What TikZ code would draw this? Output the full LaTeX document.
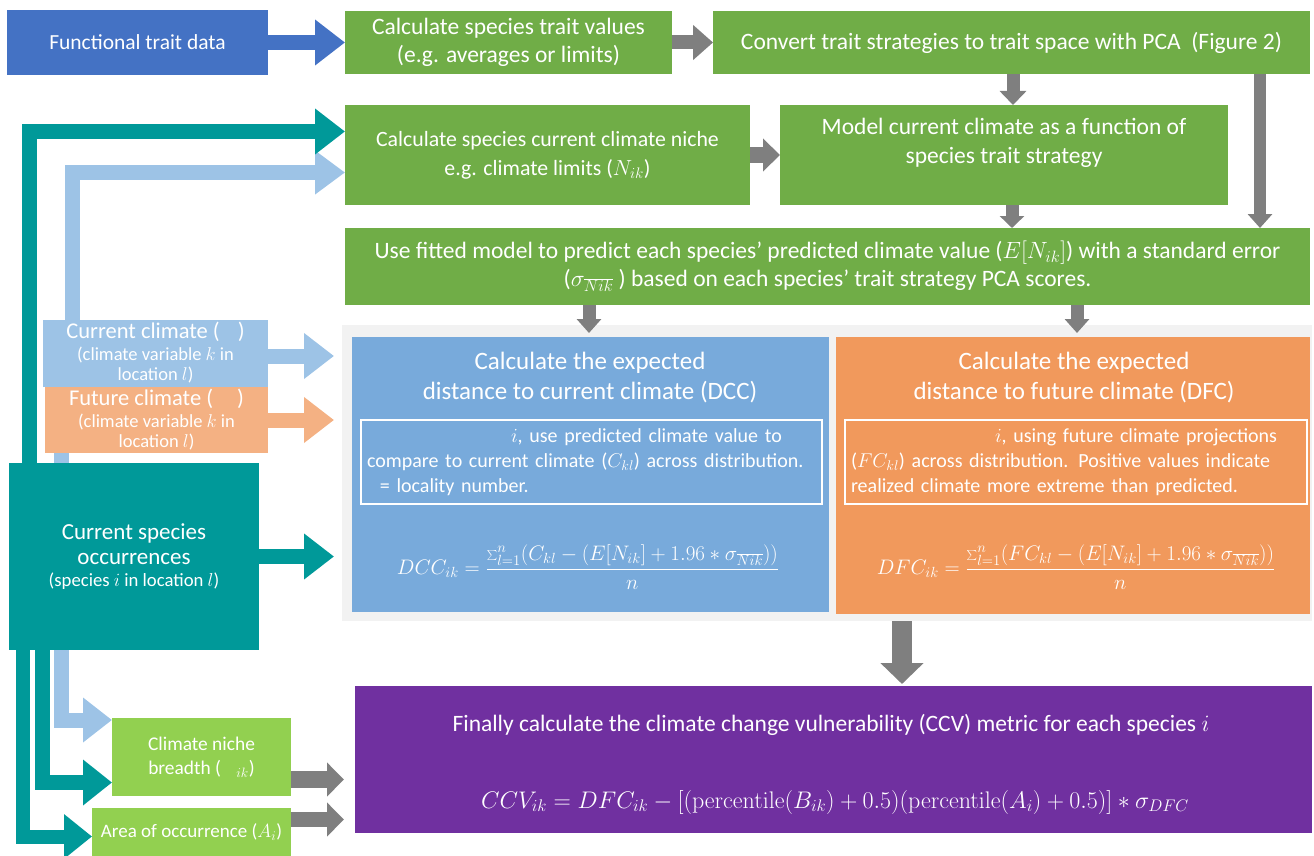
\RequirePackage{fix-cm}
\documentclass[tikz,border=0pt]{standalone}
\usepackage[no-math]{fontspec}
\setmainfont{Carlito}
\usetikzlibrary{arrows.meta}
\definecolor{traitblue}{HTML}{4472C4}
\definecolor{stepgreen}{HTML}{70AD47}
\definecolor{limegreen}{HTML}{92D050}
\definecolor{flowgrey}{HTML}{7F7F7F}
\definecolor{panelgrey}{HTML}{F2F2F2}
\definecolor{dccblue}{HTML}{78AADB}
\definecolor{dfcorange}{HTML}{F1995C}
\definecolor{curblue}{HTML}{9DC3E6}
\definecolor{futsalmon}{HTML}{F4B183}
\definecolor{occteal}{HTML}{009999}
\definecolor{ccvpurple}{HTML}{7030A0}
\pgfdeclarelayer{panel}
\pgfdeclarelayer{links}
\pgfsetlayers{panel,links,main}
\newcommand{\fsz}[2]{\fontsize{#1pt}{#2pt}\selectfont}
\tikzset{
  box/.style={draw=none,text=white,align=center,inner sep=0pt,outer sep=0pt},
  fat/.style n args={3}{line width=#1pt,-{Triangle[length=#2pt,width=#3pt]}},
}
\begin{document}
\begin{tikzpicture}[x=1pt,y=-1pt,line join=miter]
\useasboundingbox (0,0) rectangle (1314,856);
%% top rows
  \node (traitdata) at (137.5,42.5) [box,fill=traitblue,minimum width=261,minimum height=65,font=\fsz{21.5}{25}] {Functional trait data};
  \node (traitvals) at (508.5,42.5) [box,fill=stepgreen,minimum width=327,minimum height=63,font=\fsz{23.5}{28}] {Calculate species trait values\\(e.g. averages or limits)};
  \node (traitpca) at (1011.5,42.5) [box,fill=stepgreen,minimum width=597,minimum height=63,font=\fsz{23.5}{28}] {Convert trait strategies to trait space with PCA\ \ (Figure 2)};
  \node (nicheval) at (547.5,155) [box,fill=stepgreen,minimum width=405,minimum height=100,font=\fsz{21.8}{29}] {Calculate species current climate niche\\e.g. climate limits ($N_{ik}$)};
  \node (nichemodel) at (1004,155) [box,fill=stepgreen,minimum width=448,minimum height=100,font=\fsz{23.5}{29}] {Model current climate as a function of\\species trait strategy\\\mbox{}};
  \node (fitmodel) at (827.5,266.5) [box,fill=stepgreen,minimum width=965,minimum height=77,font=\fsz{23.5}{28}] {Use fitted model to predict each species’ predicted climate value ($E[N_{ik}]$) with a standard error\\($\sigma_{\overline{Nik}}$ ) based on each species’ trait strategy PCA scores.};
%% distance panels
  \begin{pgfonlayer}{panel}
  \node (calcbg) at (827,473) [box,fill=panelgrey,minimum width=970,minimum height=296] {};
  \end{pgfonlayer}
  \node (dccpanel) at (590.5,474.5) [box,fill=dccblue,minimum width=477,minimum height=275] {};
  \node (dfcpanel) at (1073,475.5) [box,fill=dfcorange,minimum width=474,minimum height=277] {};
  \node (dcctitle) at (590,377.5) [box,font=\fsz{25}{30}] {Calculate the expected\\distance to current climate (DCC)};
  \node (dfctitle) at (1074,377.5) [box,font=\fsz{25}{30}] {Calculate the expected\\distance to future climate (DFC)};
  \node (dccnote) at (591.5,462) [box,draw=white,line width=1.5pt,text width=449,inner sep=6pt,minimum height=84,align=left,font=\fsz{20}{25}] {\phantom{For each species} $i$, use predicted climate value to\\compare to current climate ($C_{kl}$) across distribution.\\\phantom{$l$} = locality number.};
  \node (dfcnote) at (1076,462) [box,draw=white,line width=1.5pt,text width=450,inner sep=6pt,minimum height=84,align=left,font=\fsz{20}{25}] {\phantom{For each species} $i$, using future climate projections\\($FC_{kl}$) across distribution. Positive values indicate\\realized climate more extreme than predicted.};
  \node (dcceq) at (588,567) [box,font=\fsz{21}{25}] {$\displaystyle DCC_{ik}=\frac{\sum\nolimits_{l=1}^{n}(C_{kl}-(E[N_{ik}]+1.96*\sigma_{\overline{Nik}}))}{n}$};
  \node (dfceq) at (1076,567) [box,font=\fsz{21}{25}] {$\displaystyle DFC_{ik}=\frac{\sum\nolimits_{l=1}^{n}(FC_{kl}-(E[N_{ik}]+1.96*\sigma_{\overline{Nik}}))}{n}$};
%% vulnerability
  \node (ccvpanel) at (833.5,759.5) [box,fill=ccvpurple,minimum width=957,minimum height=147] {};
  \node (ccvtext) at (831,725) [box,font=\fsz{23.5}{28}] {Finally calculate the climate change vulnerability (CCV) metric for each species $i$};
  \node (ccveq) at (835,802) [box,font=\fsz{24}{28}] {$CCV_{ik}=DFC_{ik}-[(\mathrm{percentile}(B_{ik})+0.5)(\mathrm{percentile}(A_i)+0.5)]*\sigma_{DFC}$};
%% inputs on the left
  \node (curclim) at (155.5,353) [box,fill=curblue,minimum width=225,minimum height=67,font=\fsz{22.5}{21}] {Current climate (\hspace{18pt})\\[1pt]\fsz{18.5}{21}(climate variable $k$ in\\[-1pt]\fsz{18.5}{21}location $l$)};
  \node (futclim) at (156.5,420) [box,fill=futsalmon,minimum width=223,minimum height=66,font=\fsz{22.5}{21}] {Future climate (\hspace{24pt})\\[1pt]\fsz{18.5}{21}(climate variable $k$ in\\[-1pt]\fsz{18.5}{21}location $l$)};
  \node (occ) at (134,556.5) [box,fill=occteal,minimum width=250,minimum height=187,font=\fsz{23}{25}] {Current species\\occurrences\\[-3pt]\fsz{18.7}{22}(species $i$ in location $l$)};
  \node (breadth) at (201.5,757) [box,fill=limegreen,minimum width=179,minimum height=78,font=\fsz{19.4}{24}] {Climate niche\\breadth ($\phantom{B}_{ik}$)};
  \node (area) at (191.5,832) [box,fill=limegreen,minimum width=199,minimum height=48,font=\fsz{19}{24}] {Area of occurrence ($A_i$)};
%% connectors
  \begin{pgfonlayer}{links}
  \draw [traitblue,fat={15}{30}{44}] (traitdata) -- (traitvals);
  \draw [flowgrey,fat={14}{20}{34}] (traitvals) -- (traitpca);
  \draw [flowgrey,fat={15}{17}{32}] (nicheval) -- (nichemodel);
  \draw [flowgrey,fat={13}{14}{26}] ([xshift=9pt]nichemodel.north |- traitpca.south) -- ([xshift=9pt]nichemodel.north);
  \draw [flowgrey,fat={13}{12}{24}] ([xshift=8pt]nichemodel.south) -- ([xshift=8pt]nichemodel.south |- fitmodel.north);
  \draw [flowgrey,fat={12}{14}{24}] ([xshift=248.5pt]traitpca.south) -- ([xshift=248.5pt]traitpca.south |- fitmodel.north);
  \draw [flowgrey,fat={13}{14}{24},shorten >=4pt] ([xshift=-1.5pt]dccpanel.north |- fitmodel.south) -- ([xshift=-1.5pt]dccpanel.north);
  \draw [flowgrey,fat={13}{14}{24},shorten >=4pt] ([xshift=4pt]dfcpanel.north |- fitmodel.south) -- ([xshift=4pt]dfcpanel.north);
  \draw [flowgrey,fat={20}{21}{42},shorten >=2pt] ([xshift=75pt]calcbg.south) -- ([xshift=75pt]calcbg.south |- ccvpanel.north);
  \draw [curblue,fat={15}{30}{44},shorten >=8pt] ([yshift=-3pt]curclim.east) -- ([yshift=-3pt]curclim.east -| calcbg.west);
  \draw [futsalmon,fat={15}{30}{44},shorten >=8pt] (futclim.east) -- (futclim.east -| calcbg.west);
  \draw [occteal,fat={15}{30}{44},shorten >=8pt] (occ.east) -- (occ.east -| calcbg.west);
  \draw [curblue,fat={15}{30}{42}] ([xshift=-83pt]curclim.north) |- ([yshift=-17.5pt]nicheval.west);
  \draw [occteal,fat={15}{30}{44}] ([xshift=-104.5pt]occ.north) |- ([yshift=23.5pt]nicheval.west);
  \draw [curblue,fat={15}{29}{43}] ([xshift=-94.5pt]curclim.south) |- ([yshift=37pt]breadth.west);
  \draw [occteal,fat={15}{29}{44}] ([xshift=-91.5pt]occ.south) |- ([yshift=-25.5pt]breadth.west);
  \draw [occteal,fat={14}{28}{43}] ([xshift=-111pt]occ.south) |- ([yshift=-4.5pt]area.west);
  \draw [flowgrey,fat={17}{17}{33},shorten >=11pt] ([yshift=-22.5pt]breadth.east) -- ([yshift=-22.5pt]breadth.east -| ccvpanel.west);
  \draw [flowgrey,fat={15}{17}{33},shorten >=11pt] ([yshift=12.5pt]area.east) -- ([yshift=12.5pt]area.east -| ccvpanel.west);
  \end{pgfonlayer}
\end{tikzpicture}
\end{document}
